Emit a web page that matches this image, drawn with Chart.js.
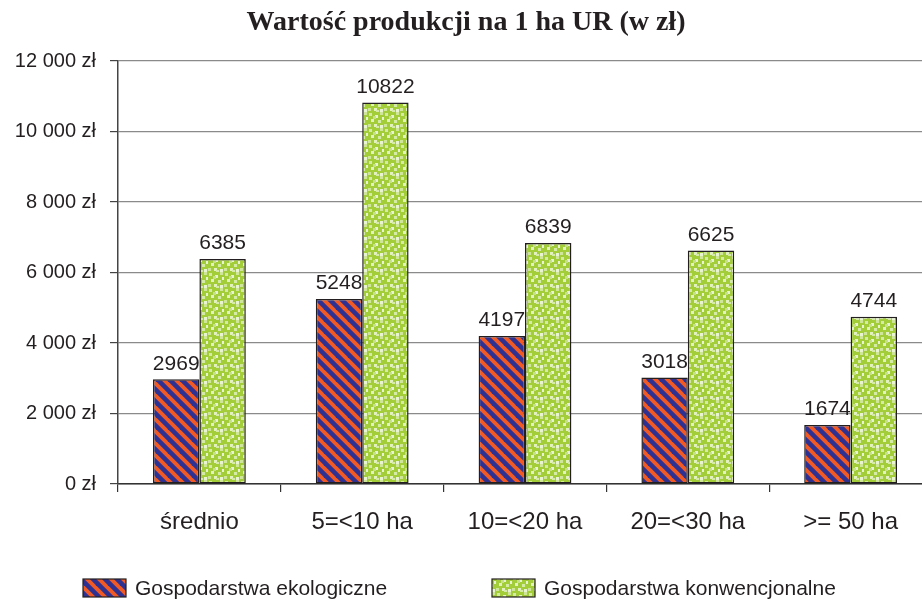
<!DOCTYPE html>
<html>
<head>
<meta charset="utf-8">
<script src="https://cdn.jsdelivr.net/npm/chart.js@4.4.1/dist/chart.umd.min.js"></script>
<style>
html,body{margin:0;padding:0;background:#fff;overflow:hidden;width:922px;height:601px;}
canvas{display:block;}
</style>
</head>
<body>
<canvas id="c" width="932" height="601"></canvas>
<script>
const categories = ["średnio", "5=<10 ha", "10=<20 ha", "20=<30 ha", ">= 50 ha"];
const ekologiczne = [2969, 5248, 4197, 3018, 1674];
const konwencjonalne = [6385, 10822, 6839, 6625, 4744];
const seriesNames = ["Gospodarstwa ekologiczne", "Gospodarstwa konwencjonalne"];
const yTicks = [0, 2000, 4000, 6000, 8000, 10000, 12000];
const titleText = "Wartość produkcji na 1 ha UR (w zł)";

function stripePattern() {
  const s = 12;
  const c = document.createElement('canvas');
  c.width = s; c.height = s;
  const g = c.getContext('2d');
  g.fillStyle = '#2e3192';
  g.fillRect(0, 0, s, s);
  g.strokeStyle = '#f15a24';
  g.lineWidth = 3.9;
  for (let k = -2; k <= 2; k++) {
    g.beginPath();
    g.moveTo(k * s - 2, -2);
    g.lineTo(k * s + s + 2, s + 2);
    g.stroke();
  }
  return g.createPattern(c, 'repeat');
}
function dotPattern() {
  const s = 16;
  const c = document.createElement('canvas');
  c.width = s; c.height = s;
  const g = c.getContext('2d');
  g.fillStyle = '#a4cd3a';
  g.fillRect(0, 0, s, s);
  const dots = [[1,1,'#d6eaa8'],[7,3,'#e8f3cf'],[12,0,'#cfe59a'],[3,7,'#e2f0c2'],[10,8,'#d6eaa8'],[14,5,'#e8f3cf'],[0,12,'#cfe59a'],[6,12,'#e2f0c2'],[12,13,'#e8f3cf'],[5,4,'#c6e08c'],[8,14,'#d6eaa8']];
  dots.forEach(d => { g.fillStyle = d[2]; g.fillRect(d[0], d[1], 3, 3); });
  return g.createPattern(c, 'repeat');
}
const fills = [stripePattern(), dotPattern()];

function fmt(v) {
  return String(v).replace(/\B(?=(\d{3})+(?!\d))/g, ' ') + ' zł';
}

const titlePlugin = {
  id: 'titleP',
  afterDraw(chart) {
    const ctx = chart.ctx;
    ctx.save();
    ctx.font = 'bold 28px "Liberation Serif", "DejaVu Serif", serif';
    ctx.fillStyle = '#231f20';
    ctx.textAlign = 'center';
    ctx.textBaseline = 'middle';
    ctx.fillText(titleText, 466, 23);
    ctx.restore();
  }
};
const labelPlugin = {
  id: 'valLabels',
  afterDatasetsDraw(chart) {
    const ctx = chart.ctx;
    ctx.save();
    ctx.font = '21px "Liberation Sans", Arial, sans-serif';
    ctx.fillStyle = '#231f20';
    ctx.textAlign = 'center';
    ctx.textBaseline = 'bottom';
    chart.data.datasets.forEach((ds, i) => {
      chart.getDatasetMeta(i).data.forEach((bar, j) => {
        ctx.fillText(String(ds.data[j]), bar.x, bar.y - 5);
      });
    });
    ctx.restore();
  }
};
const legendPlugin = {
  id: 'legendP',
  afterDraw(chart) {
    const ctx = chart.ctx;
    const xs = [83, 492];
    const yc = 588;
    ctx.save();
    chart.data.datasets.forEach((ds, i) => {
      ctx.fillStyle = ds.backgroundColor;
      ctx.fillRect(xs[i], yc - 9, 43, 18);
      ctx.strokeStyle = '#231f20';
      ctx.lineWidth = 1.2;
      ctx.strokeRect(xs[i], yc - 9, 43, 18);
      ctx.fillStyle = '#231f20';
      ctx.font = '21px "Liberation Sans", Arial, sans-serif';
      ctx.textAlign = 'left';
      ctx.textBaseline = 'middle';
      ctx.fillText(ds.label, xs[i] + 52, yc + 1);
    });
    ctx.restore();
  }
};

new Chart(document.getElementById('c'), {
  type: 'bar',
  data: {
    labels: categories,
    datasets: [
      { label: seriesNames[0], data: ekologiczne, backgroundColor: fills[0], borderColor: '#231f20', borderWidth: 1.5, borderSkipped: false },
      { label: seriesNames[1], data: konwencjonalne, backgroundColor: fills[1], borderColor: '#231f20', borderWidth: 1.5, borderSkipped: false }
    ]
  },
  options: {
    responsive: false,
    animation: false,
    layout: { padding: { top: 61, left: 0, right: 0, bottom: 0 } },
    datasets: { bar: { categoryPercentage: 0.57, barPercentage: 1.0 } },
    plugins: { legend: { display: false }, title: { display: false }, tooltip: { enabled: false } },
    scales: {
      x: {
        grid: { display: true, drawOnChartArea: false, drawTicks: true, tickLength: 8, color: '#333', offset: true, lineWidth: 1.2 },
        border: { display: true, color: '#333', width: 1.5 },
        ticks: { color: '#231f20', font: { size: 24, family: '"Liberation Sans", Arial, sans-serif' }, padding: 16, maxRotation: 0 },
        afterFit(scale) { scale.height = 117; }
      },
      y: {
        min: 0, max: 12000,
        afterBuildTicks(scale) { scale.ticks = yTicks.map(v => ({ value: v })); },
        grid: { color: '#8a8a8a', lineWidth: 1.2, tickLength: 8, tickColor: '#444' },
        border: { display: true, color: '#444', width: 1.5 },
        ticks: { color: '#231f20', font: { size: 20, family: '"Liberation Sans", Arial, sans-serif' }, padding: 14, callback: v => fmt(v) },
        afterFit(scale) { scale.width = 118; }
      }
    }
  },
  plugins: [titlePlugin, labelPlugin, legendPlugin]
});
</script>
</body>
</html>
